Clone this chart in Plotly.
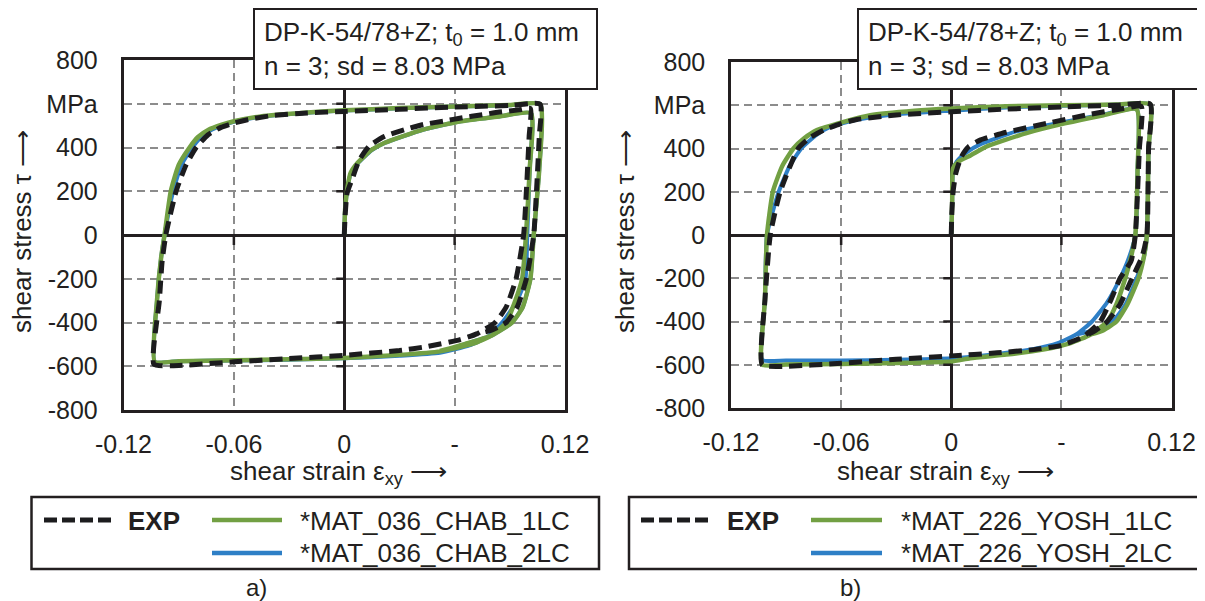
import plotly.graph_objects as go

# ---------------- data ----------------
x_ticks = [-0.12, -0.06, 0, 0.06, 0.12]
x_ticktext = ["-0.12", "-0.06", "0", "-", "0.12"]
y_ticks = [-800, -600, -400, -200, 0, 200, 400, 600, 800]
y_ticktext = ["-800", "-600", "-400", "-200", "0", "200", "400", "MPa", "800"]

# a) *MAT_036 (Chaboche)
a_exp_x = [0, 0.0005, 0.0015, 0.0043, 0.008, 0.0135, 0.022, 0.033, 0.043, 0.055, 0.0635, 0.075, 0.0843, 0.095, 0.1012,
           0.1005, 0.099, 0.0975, 0.0934, 0.088, 0.082, 0.072, 0.063, 0.045, 0.03, 0.0, -0.03, -0.06, -0.094, -0.1035,
           -0.1005, -0.099, -0.097, -0.0914, -0.086, -0.0805, -0.074, -0.067, -0.06, -0.0526, -0.04, -0.02, 0, 0.03, 0.06, 0.09, 0.1065,
           0.106, 0.1045, 0.103, 0.099, 0.094, 0.088, 0.08, 0.072]
a_exp_y = [0, 90, 190, 255, 340, 406, 451, 482, 505, 522, 535, 550, 562, 572, 578,
           450, 200, 0, -200, -330, -400, -452, -478, -510, -528, -550, -565, -580, -598, -590,
           -300, -120, 0, 200, 320, 400, 458, 492, 512, 527, 545, 558, 565, 575, 585, 592, 598,
           450, 200, 0, -200, -330, -400, -435, -452]

a_chab1_x = [0, 0.0005, 0.002, 0.0035, 0.0074, 0.015, 0.022, 0.0428, 0.0635, 0.0843, 0.1015,
             0.1008, 0.0988, 0.0967, 0.093, 0.088, 0.08, 0.07, 0.052, 0.03, 0, -0.03, -0.06, -0.09, -0.103,
             -0.1018, -0.0995, -0.0977, -0.0943, -0.09, -0.0841, -0.0795, -0.074, -0.067, -0.06, -0.0454, -0.02, 0, 0.03, 0.06, 0.09, 0.1065,
             0.106, 0.103, 0.1012, 0.097, 0.0912, 0.08, 0.065, 0.052]
a_chab1_y = [0, 120, 230, 285, 331, 390, 422, 482, 520, 542, 557,
             300, 0, -200, -300, -400, -460, -497, -532, -548, -562, -568, -573, -577, -580,
             -300, -100, 0, 200, 320, 400, 448, 480, 503, 520, 542, 560, 570, 580, 588, 594, 598,
             300, 0, -200, -330, -400, -460, -500, -530]

a_chab2_x = [0, 0.0005, 0.002, 0.0035, 0.0074, 0.015, 0.022, 0.0428, 0.0635, 0.0843, 0.1015,
             0.1008, 0.0995, 0.0985, 0.094, 0.0858, 0.078, 0.068, 0.052, 0.03, 0, -0.03, -0.06, -0.09, -0.103,
             -0.1018, -0.0995, -0.0977, -0.093, -0.0885, -0.0825, -0.078, -0.073, -0.066, -0.06, -0.045, -0.02, 0, 0.03, 0.06, 0.09, 0.1065,
             0.106, 0.103, 0.1012, 0.097, 0.0912, 0.08, 0.065, 0.052]
a_chab2_y = [0, 120, 225, 280, 328, 388, 421, 481, 520, 542, 557,
             300, 0, -200, -300, -400, -465, -505, -538, -552, -564, -570, -574, -577, -580,
             -300, -100, 0, 200, 320, 400, 445, 476, 502, 518, 541, 559, 569, 579, 587, 593, 598,
             300, 0, -200, -330, -400, -460, -500, -536]

# b) *MAT_226 (Yoshida)
b_exp_x = [0, 0.0003, 0.001, 0.0025, 0.0055, 0.0094, 0.016, 0.03, 0.052, 0.073, 0.0938, 0.1035,
           0.1025, 0.1003, 0.098, 0.092, 0.087, 0.0812, 0.072, 0.06, 0.045, 0.025, 0, -0.03, -0.06, -0.093, -0.103,
           -0.1015, -0.0986, -0.0932, -0.0834, -0.077, -0.0696, -0.06, -0.0514, -0.03, 0, 0.03, 0.06, 0.09, 0.1084,
           0.1075, 0.1066, 0.104, 0.0985, 0.092, 0.085, 0.078, 0.072]
b_exp_y = [0, 100, 200, 286, 362, 408, 440, 475, 516, 554, 585, 595,
           400, 0, -120, -200, -300, -400, -470, -510, -530, -545, -559, -575, -593, -608, -600,
           -300, 0, 200, 400, 450, 485, 515, 534, 555, 570, 582, 592, 600, 605,
           400, 0, -100, -200, -320, -400, -445, -470]

b_yosh1_x = [0, 0.0005, 0.001, 0.004, 0.0107, 0.019, 0.0405, 0.0618, 0.083, 0.101,
             0.1015, 0.1003, 0.098, 0.0948, 0.09, 0.085, 0.076, 0.065, 0.05, 0.03, 0.0104, 0, -0.03, -0.06, -0.09, -0.103,
             -0.1015, -0.1004, -0.0972, -0.092, -0.086, -0.08, -0.0732, -0.0587, -0.0441, -0.02, 0, 0.03, 0.06, 0.09, 0.1084,
             0.1075, 0.1066, 0.105, 0.102, 0.096, 0.09, 0.083, 0.076]
b_yosh1_y = [0, 150, 309, 340, 369, 408, 470, 516, 554, 582,
             300, 0, -100, -200, -320, -400, -460, -500, -530, -553, -570, -585, -592, -597, -599, -600,
             -300, 0, 200, 320, 400, 448, 485, 523, 554, 575, 585, 595, 600, 603, 605,
             400, 0, -100, -200, -320, -400, -440, -460]

b_yosh2_x = [0, 0.0005, 0.001, 0.003, 0.008, 0.016, 0.035, 0.06, 0.082, 0.101,
             0.1015, 0.1003, 0.097, 0.092, 0.085, 0.0767, 0.068, 0.058, 0.045, 0.025, 0, -0.03, -0.06, -0.09, -0.103,
             -0.1015, -0.1004, -0.094, -0.088, -0.0817, -0.074, -0.066, -0.05, -0.03, 0, 0.03, 0.06, 0.09, 0.1084,
             0.1075, 0.1066, 0.105, 0.101, 0.095, 0.088, 0.078, 0.068]
b_yosh2_y = [0, 150, 300, 340, 380, 420, 478, 520, 556, 582,
             300, 0, -100, -200, -310, -400, -460, -500, -527, -550, -570, -577, -580, -580, -577,
             -300, 0, 200, 320, 400, 460, 500, 535, 558, 575, 590, 598, 602, 605,
             400, 0, -100, -200, -320, -400, -440, -460]

# ---------------- styling ----------------
W, H = 1205, 601
OFF = 8  # body margin of the html page
DARK = "#231f20"
GREEN = "#72a043"
BLUE = "#2e7fc6"
BLACK = "#1c1c1e"
FONT = "Liberation Sans, Arial, sans-serif"


def px(x):
    return (x - OFF) / W


def py(y):
    return 1 - (y - OFF) / H


fig = go.Figure()

panels = [
    ("x", "y", (a_exp_x, a_exp_y), (a_chab1_x, a_chab1_y), (a_chab2_x, a_chab2_y)),
    ("x2", "y2", (b_exp_x, b_exp_y), (b_yosh1_x, b_yosh1_y), (b_yosh2_x, b_yosh2_y)),
]
for xr, yr, exp, m1, m2 in panels:
    fig.add_trace(go.Scatter(x=m2[0], y=m2[1], xaxis=xr, yaxis=yr, mode="lines",
                             line=dict(color=BLUE, width=4, shape="spline", smoothing=0.5),
                             showlegend=False))
    fig.add_trace(go.Scatter(x=m1[0], y=m1[1], xaxis=xr, yaxis=yr, mode="lines",
                             line=dict(color=GREEN, width=4.5, shape="spline", smoothing=0.5),
                             showlegend=False))
    fig.add_trace(go.Scatter(x=exp[0], y=exp[1], xaxis=xr, yaxis=yr, mode="lines",
                             line=dict(color=BLACK, width=5, dash="13px,7px", shape="spline", smoothing=0.5),
                             showlegend=False))

xax = dict(range=[-0.12, 0.12], tickvals=x_ticks, ticktext=x_ticktext,
           showgrid=True, gridcolor="#8c8c8c", griddash="8px,5px", gridwidth=2,
           zeroline=True, zerolinecolor=DARK, zerolinewidth=2.5,
           showline=True, mirror=True, linecolor=DARK, linewidth=2.5,
           ticks="", tickfont=dict(size=25, color=DARK), ticklabelstandoff=10,
           fixedrange=True, automargin=False)
yax = dict(range=[-800, 800], tickvals=y_ticks, ticktext=y_ticktext,
           showgrid=True, gridcolor="#8c8c8c", griddash="8px,5px", gridwidth=2,
           zeroline=True, zerolinecolor=DARK, zerolinewidth=2.5,
           showline=True, mirror=True, linecolor=DARK, linewidth=2.5,
           ticks="", tickfont=dict(size=25, color=DARK), ticklabelstandoff=18,
           fixedrange=True, automargin=False)

fig.update_layout(
    width=W, height=H,
    margin=dict(l=0, r=0, t=0, b=0),
    paper_bgcolor="white", plot_bgcolor="white",
    font=dict(family=FONT, color=DARK),
    showlegend=False,
    xaxis=dict(xax, domain=[px(123.5), px(565)], anchor="y"),
    yaxis=dict(yax, domain=[py(410), py(60)], anchor="x"),
    xaxis2=dict(xax, domain=[px(731), px(1171.5)], anchor="y2"),
    yaxis2=dict(yax, domain=[py(408), py(62)], anchor="x2"),
)

shapes = []
annotations = []
# small tick marks on the zero lines
for xr, yr in [("x", "y"), ("x2", "y2")]:
    for v in [-600, -400, -200, 200, 400, 600]:
        shapes.append(dict(type="line", xref=xr, yref=yr, xsizemode="pixel", xanchor=0,
                           x0=-8, x1=0, y0=v, y1=v, line=dict(color=DARK, width=2.5)))
    for v in [-0.06, 0.06]:
        shapes.append(dict(type="line", xref=xr, yref=yr, ysizemode="pixel", yanchor=0,
                           y0=-10, y1=0, x0=v, x1=v, line=dict(color=DARK, width=2.5)))

# per-panel boxes, legends and labels
panel_geo = [
    dict(box=(254, 597), txt=262, leg=(31.5, 599), exp=(44, 115), exp_t=126, mod=(212, 282), mod_t=298,
         xt=338, yt=22, lab=256, lab_t="a)",
         names=("*MAT_036_CHAB_1LC", "*MAT_036_CHAB_2LC")),
    dict(box=(858, 1201), txt=866, leg=(629, 1202), exp=(641, 713), exp_t=725, mod=(811, 882), mod_t=899,
         xt=945, yt=625, lab=850, lab_t="b)",
         names=("*MAT_226_YOSH_1LC", "*MAT_226_YOSH_2LC")),
]
for g in panel_geo:
    shapes.append(dict(type="rect", xref="paper", yref="paper", layer="above",
                       x0=px(g["box"][0]), x1=px(g["box"][1]), y0=py(89), y1=py(9),
                       fillcolor="white", line=dict(color=DARK, width=2)))
    annotations.append(dict(xref="paper", yref="paper", x=px(g["txt"]), y=py(49),
                            xanchor="left", yanchor="middle", align="left", showarrow=False,
                            text="DP-K-54/78+Z; t<sub>0</sub> = 1.0 mm<br>n = 3; sd = 8.03 MPa",
                            font=dict(size=26, color=DARK)))
    # legend box
    shapes.append(dict(type="rect", xref="paper", yref="paper",
                       x0=px(g["leg"][0]), x1=px(g["leg"][1]), y0=py(569), y1=py(497),
                       line=dict(color=DARK, width=2.5)))
    shapes.append(dict(type="line", xref="paper", yref="paper",
                       x0=px(g["exp"][0]), x1=px(g["exp"][1]), y0=py(520), y1=py(520),
                       line=dict(color=BLACK, width=5, dash="13px,5px")))
    shapes.append(dict(type="line", xref="paper", yref="paper",
                       x0=px(g["mod"][0]), x1=px(g["mod"][1]), y0=py(520), y1=py(520),
                       line=dict(color=GREEN, width=4.5)))
    shapes.append(dict(type="line", xref="paper", yref="paper",
                       x0=px(g["mod"][0]), x1=px(g["mod"][1]), y0=py(553), y1=py(553),
                       line=dict(color=BLUE, width=4.5)))
    annotations.append(dict(xref="paper", yref="paper", x=px(g["exp_t"]), y=py(521),
                            xanchor="left", yanchor="middle", showarrow=False,
                            text="<b>EXP</b>", font=dict(size=26, color=DARK)))
    annotations.append(dict(xref="paper", yref="paper", x=px(g["mod_t"]), y=py(521),
                            xanchor="left", yanchor="middle", showarrow=False,
                            text=g["names"][0], font=dict(size=26, color=DARK)))
    annotations.append(dict(xref="paper", yref="paper", x=px(g["mod_t"]), y=py(553),
                            xanchor="left", yanchor="middle", showarrow=False,
                            text=g["names"][1], font=dict(size=26, color=DARK)))
    # axis titles
    annotations.append(dict(xref="paper", yref="paper", x=px(g["xt"]), y=py(472),
                            xanchor="center", yanchor="middle", showarrow=False,
                            text="shear strain ε<sub>xy</sub> ⟶", font=dict(size=26, color=DARK)))
    annotations.append(dict(xref="paper", yref="paper", x=px(g["yt"]), y=py(232),
                            xanchor="center", yanchor="middle", showarrow=False, textangle=-90,
                            text="shear stress τ ⟶", font=dict(size=26, color=DARK)))
    annotations.append(dict(xref="paper", yref="paper", x=px(g["lab"]), y=py(587),
                            xanchor="center", yanchor="middle", showarrow=False,
                            text=g["lab_t"], font=dict(size=24, color=DARK)))

fig.update_layout(shapes=shapes, annotations=annotations)

fig.write_html("out.html")
